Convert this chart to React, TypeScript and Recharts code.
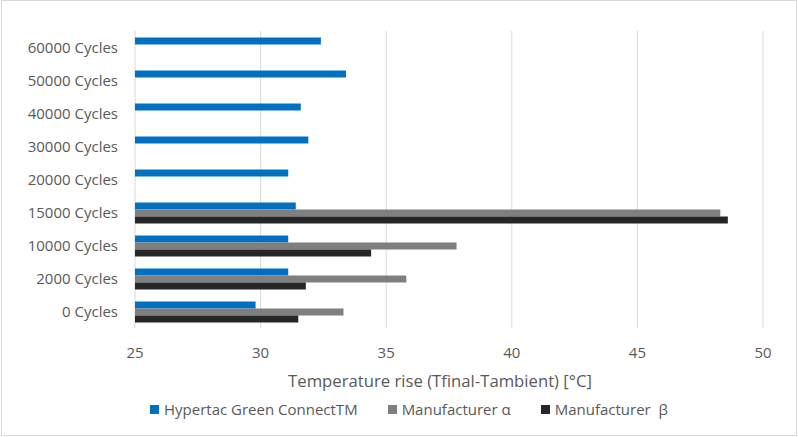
import { BarChart, Bar, XAxis, YAxis, CartesianGrid, Legend } from 'recharts';

// cycle counts, listed top to bottom as drawn
const categories = [
  '60000 Cycles',
  '50000 Cycles',
  '40000 Cycles',
  '30000 Cycles',
  '20000 Cycles',
  '15000 Cycles',
  '10000 Cycles',
  '2000 Cycles',
  '0 Cycles',
];

const hypertac = [32.4, 33.4, 31.6, 31.9, 31.1, 31.4, 31.1, 31.1, 29.8];
const manufacturerAlpha = [null, null, null, null, null, 48.3, 37.8, 35.8, 33.3];
const manufacturerBeta = [null, null, null, null, null, 48.6, 34.4, 31.8, 31.5];

const xTicks = [25, 30, 35, 40, 45, 50];

const series = [
  { key: 'hypertac', name: 'Hypertac Green ConnectTM', color: '#0070C0' },
  { key: 'alpha', name: 'Manufacturer α', color: '#7F7F7F' },
  { key: 'beta', name: 'Manufacturer \u00a0β', color: '#262626' },
];

const data = categories.map((cycle, i) => ({
  cycle,
  hypertac: hypertac[i],
  alpha: manufacturerAlpha[i],
  beta: manufacturerBeta[i],
}));

const FONT = '"Open Sans", "Noto Sans", sans-serif';
const TEXT = '#595959';

const renderLegend = () => (
  <div
    style={{
      height: 30,
      display: 'flex',
      alignItems: 'center',
      paddingLeft: 150,
      fontFamily: FONT,
      fontSize: 15,
      color: TEXT,
      whiteSpace: 'pre',
    }}
  >
    {series.map((s) => (
      <div key={s.key} style={{ display: 'flex', alignItems: 'center', marginRight: 30 }}>
        <span style={{ width: 9, height: 9, background: s.color, marginRight: 5 }} />
        <span>{s.name}</span>
      </div>
    ))}
  </div>
);

const renderAxisTitle = (props: any) => {
  const { x, y, width, height } = props.viewBox;
  return (
    <text
      x={x + width / 2 - 9}
      y={y + height - 7}
      textAnchor="middle"
      fontFamily={FONT}
      fontSize={16.7}
      fill={TEXT}
    >
      Temperature rise (Tfinal-Tambient) [°C]
    </text>
  );
};

export default function App() {
  return (
    <div style={{ position: 'absolute', left: 0, top: 0, width: 798, height: 437, background: '#fff' }}>
      <BarChart
        width={798}
        height={437}
        data={data}
        layout="vertical"
        margin={{ top: 31, right: 35, left: 0, bottom: 13 }}
        barCategoryGap="20%"
        barGap={0}
      >
        <CartesianGrid horizontal={false} stroke="#D9D9D9" />
        <XAxis
          type="number"
          domain={[25, 50]}
          ticks={xTicks}
          axisLine={false}
          tickLine={false}
          tickMargin={13}
          height={66}
          tick={{ fill: TEXT, fontSize: 15, fontFamily: FONT }}
          label={renderAxisTitle}
        />
        <YAxis
          type="category"
          dataKey="cycle"
          width={135}
          axisLine={false}
          tickLine={false}
          tickMargin={11}
          tick={{ fill: TEXT, fontSize: 15, fontFamily: FONT }}
        />
        <Legend verticalAlign="bottom" height={30} content={renderLegend} />
        {series.map((s) => (
          <Bar key={s.key} dataKey={s.key} name={s.name} fill={s.color} isAnimationActive={false} />
        ))}
      </BarChart>
      <div
        style={{
          position: 'absolute',
          left: 1,
          top: 0,
          width: 796,
          height: 436,
          border: '1px solid #D9D9D9',
          boxSizing: 'border-box',
          pointerEvents: 'none',
        }}
      />
    </div>
  );
}
